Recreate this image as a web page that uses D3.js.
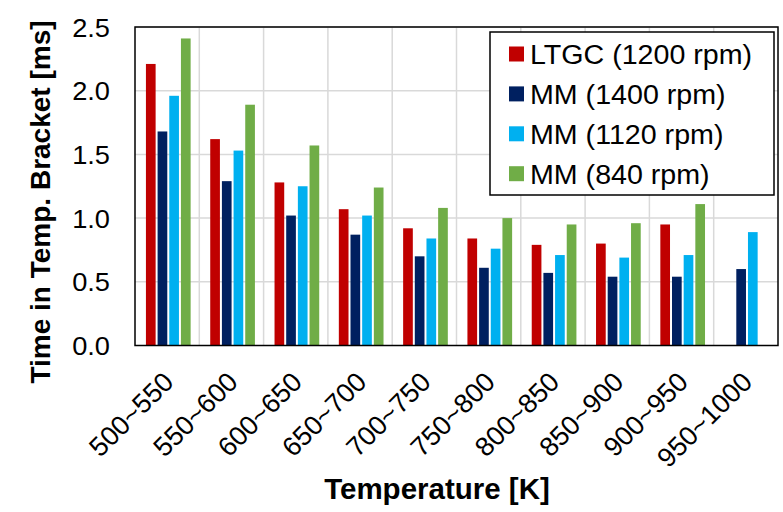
<!DOCTYPE html>
<html>
<head>
<meta charset="utf-8">
<script src="https://cdn.jsdelivr.net/npm/d3@7/dist/d3.min.js"></script>
<style>
  html, body { margin: 0; padding: 0; background: #fff; }
  svg { display: block; }
  text { font-family: "Liberation Sans", Arial, sans-serif; fill: #000; }
</style>
</head>
<body>
<svg id="chart" width="783" height="512"></svg>
<script>
// Temperature brackets (K)
const categories = ["500~550", "550~600", "600~650", "650~700", "700~750",
                    "750~800", "800~850", "850~900", "900~950", "950~1000"];

// Series names shown in the legend
const seriesNames = ["LTGC (1200 rpm)", "MM (1400 rpm)", "MM (1120 rpm)", "MM (840 rpm)"];

// Residence time in each bracket [ms]; null = no bar
const ltgc1200 = [2.21, 1.62, 1.28, 1.07, 0.92, 0.84, 0.79, 0.80, 0.95, null];
const mm1400   = [1.68, 1.29, 1.02, 0.87, 0.70, 0.61, 0.57, 0.54, 0.54, 0.60];
const mm1120   = [1.96, 1.53, 1.25, 1.02, 0.84, 0.76, 0.71, 0.69, 0.71, 0.89];
const mm840    = [2.41, 1.89, 1.57, 1.24, 1.08, 1.00, 0.95, 0.96, 1.11, null];

const yTicks = [0, 0.5, 1.0, 1.5, 2.0, 2.5];

const seriesValues = [ltgc1200, mm1400, mm1120, mm840];
const colors = ["#C00000", "#002060", "#00B0F0", "#70AD47"];

const svg = d3.select("#chart");
const plot = { left: 135, right: 778, top: 27, bottom: 345.5 };

const x0 = d3.scaleBand().domain(categories).range([plot.left, plot.right]).padding(0);
const x1 = d3.scaleBand().domain(d3.range(seriesNames.length))
  .range([x0.bandwidth() * 0.17, x0.bandwidth() * 0.865]).paddingInner(0.17);
const y = d3.scaleLinear().domain([0, 2.5]).range([plot.bottom, plot.top]);

// Gridlines
const grid = svg.append("g").attr("stroke", "#d9d9d9").attr("stroke-width", 1.5);
grid.selectAll("line.h").data(yTicks.slice(1)).join("line")
  .attr("x1", plot.left).attr("x2", plot.right)
  .attr("y1", d => y(d)).attr("y2", d => y(d));
grid.selectAll("line.v").data(categories.slice(1)).join("line")
  .attr("x1", d => x0(d)).attr("x2", d => x0(d))
  .attr("y1", plot.top).attr("y2", plot.bottom);

// Bars
const rows = categories.map((c, i) => ({ c, vals: seriesValues.map(s => s[i]) }));
svg.append("g").selectAll("g").data(rows).join("g")
  .attr("transform", d => `translate(${x0(d.c)},0)`)
  .selectAll("rect")
  .data(d => d.vals.map((v, k) => ({ v, k })).filter(e => e.v != null))
  .join("rect")
  .attr("x", e => x1(e.k))
  .attr("width", x1.bandwidth())
  .attr("y", e => y(e.v))
  .attr("height", e => y(0) - y(e.v))
  .attr("fill", e => colors[e.k]);

// Plot frame
svg.append("rect")
  .attr("x", plot.left).attr("y", plot.top)
  .attr("width", plot.right - plot.left).attr("height", plot.bottom - plot.top)
  .attr("fill", "none").attr("stroke", "#000").attr("stroke-width", 1.5);

// Y axis labels (slightly widened glyphs)
const yAxis = d3.axisLeft(y).tickValues(yTicks).tickFormat(d3.format(".1f")).tickSize(0).tickPadding(0);
const yg = svg.append("g").attr("transform", `translate(${plot.left - 25},0)`).call(yAxis);
yg.select(".domain").remove();
yg.selectAll("text")
  .attr("font-size", 25)
  .attr("font-family", "Liberation Sans, Arial, sans-serif")
  .attr("fill", "#000")
  .attr("x", 0).attr("dy", "0.36em");
yg.selectAll(".tick").each(function () {
  const tick = d3.select(this);
  tick.attr("transform", tick.attr("transform") + " scale(1.09,1)");
});

// X axis labels, rotated
const xAxis = d3.axisBottom(x0).tickSize(0).tickPadding(0);
const xg = svg.append("g").attr("transform", `translate(0,${plot.bottom})`).call(xAxis);
xg.select(".domain").remove();
xg.selectAll("text")
  .attr("font-size", 27)
  .attr("font-family", "Liberation Sans, Arial, sans-serif")
  .attr("fill", "#000")
  .attr("text-anchor", "end")
  .attr("x", 0).attr("y", 0).attr("dy", 0)
  .attr("transform", "translate(8,38) rotate(-45)");

// Axis titles
svg.append("text")
  .attr("transform", "translate(50,202) rotate(-90)")
  .attr("text-anchor", "middle")
  .attr("font-size", 28).attr("font-weight", "bold")
  .text("Time in Temp. Bracket [ms]");
svg.append("text")
  .attr("x", 437).attr("y", 499)
  .attr("text-anchor", "middle")
  .attr("font-size", 29.5).attr("font-weight", "bold")
  .text("Temperature [K]");

// Legend
const lg = svg.append("g").attr("transform", "translate(490,32)");
lg.append("rect").attr("width", 284).attr("height", 163)
  .attr("fill", "#fff").attr("stroke", "#000").attr("stroke-width", 1.5);
const items = lg.selectAll("g.item").data(seriesNames).join("g")
  .attr("transform", (d, i) => `translate(19,${22 + i * 39.9})`);
items.append("rect").attr("x", 0).attr("y", -7.5).attr("width", 15).attr("height", 15)
  .attr("fill", (d, i) => colors[i]);
items.append("text")
  .attr("transform", "translate(21,10) scale(1.06,1)")
  .attr("font-size", 27)
  .text(d => d);
</script>
</body>
</html>
